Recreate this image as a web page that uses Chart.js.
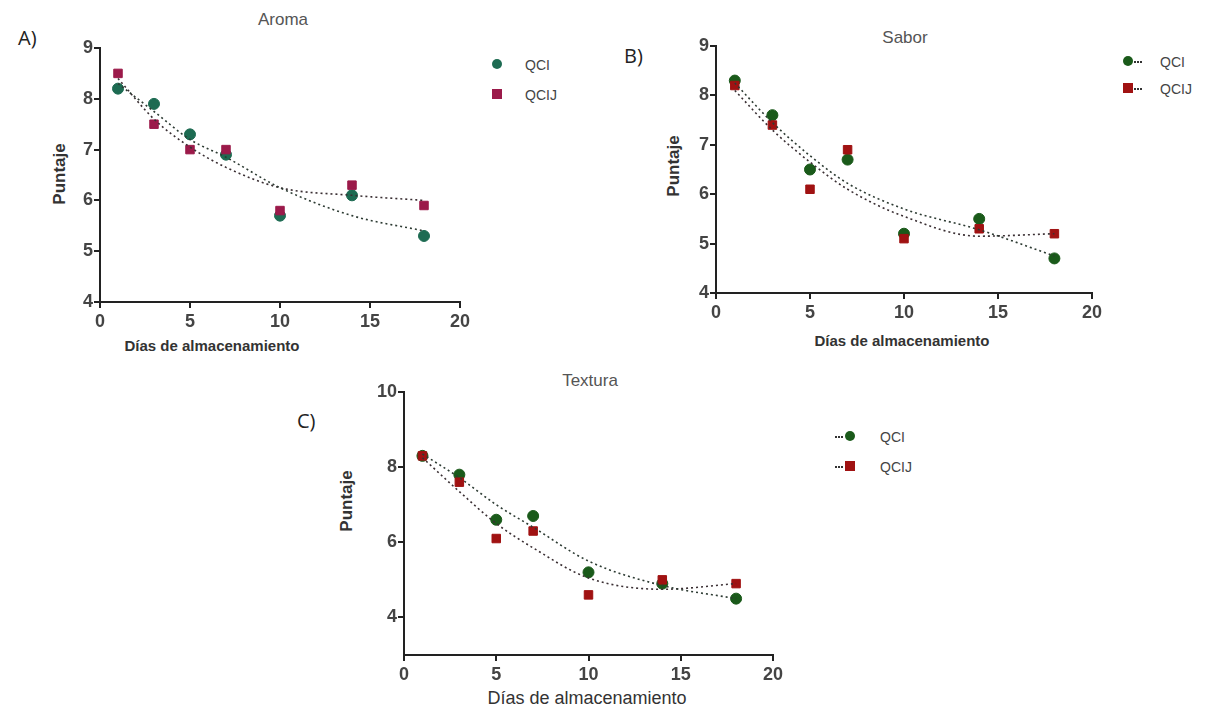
<!DOCTYPE html>
<html>
<head>
<meta charset="utf-8">
<script src="https://cdn.jsdelivr.net/npm/chart.js@4"></script>
<style>
  body { margin: 0; background: #fff; width: 1211px; height: 713px; position: relative; overflow: hidden; font-family: "Liberation Sans", Arial, sans-serif; }
  canvas { position: absolute; }
  .t { position: absolute; white-space: nowrap; }
  .panel { font-family: "Open Sans", sans-serif; font-size: 20px; color: #222; }
  .title { font-size: 17px; color: #555; transform: translateX(-50%); }
  .xlab { font-size: 15px; font-weight: bold; color: #333; transform: translateX(-50%); }
  .ylab { font-size: 17px; font-weight: bold; color: #333; transform: translate(-50%, -50%) rotate(-90deg); }
  .leg { position: absolute; font-size: 14px; color: #444; }
  .leg .m { position: absolute; top: 2px; width: 10px; height: 10px; }
  .leg .d { position: absolute; top: 7px; width: 8px; border-top: 2px dotted #333; }
</style>
</head>
<body>

<div class="t panel" style="left:18px; top:24px;">A)</div>
<div class="t title" style="left:283px; top:10px;">Aroma</div>
<div class="t ylab" style="left:60px; top:174px;">Puntaje</div>
<div class="t xlab" style="left:212px; top:337px;">Días de almacenamiento</div>

<div class="t panel" style="left:624px; top:42px;">B)</div>
<div class="t title" style="left:905px; top:28px;">Sabor</div>
<div class="t ylab" style="left:674px; top:166px;">Puntaje</div>
<div class="t xlab" style="left:902px; top:332px;">Días de almacenamiento</div>

<div class="t panel" style="left:297px; top:407px;">C)</div>
<div class="t title" style="left:590px; top:371px;">Textura</div>
<div class="t ylab" style="left:347px; top:501px;">Puntaje</div>
<div class="t" style="left:587px; top:688px; transform:translateX(-50%); font-size:18px; color:#333;">Días de almacenamiento</div>

<canvas id="chartA"></canvas>
<canvas id="chartB"></canvas>
<canvas id="chartC"></canvas>

<script>
// days of storage
const dias = [1, 3, 5, 7, 10, 14, 18];
const xTicks = [0, 5, 10, 15, 20];

// A) Aroma
const aromaQCI  = [8.2, 7.9, 7.3, 6.9, 5.7, 6.1, 5.3];
const aromaQCIJ = [8.5, 7.5, 7.0, 7.0, 5.8, 6.3, 5.9];
const aromaFitQCI  = [8.3, 7.75, 7.2, 6.85, 6.25, 5.7, 5.4];
const aromaFitQCIJ = [8.4, 7.6, 7.05, 6.65, 6.25, 6.1, 6.0];
const aromaYTicks = [4, 5, 6, 7, 8, 9];

// B) Sabor
const saborQCI  = [8.3, 7.6, 6.5, 6.7, 5.2, 5.5, 4.7];
const saborQCIJ = [8.2, 7.4, 6.1, 6.9, 5.1, 5.3, 5.2];
const saborFitQCI  = [8.25, 7.45, 6.78, 6.22, 5.7, 5.28, 4.75];
const saborFitQCIJ = [8.1, 7.3, 6.65, 6.1, 5.55, 5.15, 5.2];
const saborYTicks = [4, 5, 6, 7, 8, 9];

// C) Textura
const texturaQCI  = [8.3, 7.8, 6.6, 6.7, 5.2, 4.9, 4.5];
const texturaQCIJ = [8.3, 7.6, 6.1, 6.3, 4.6, 5.0, 4.9];
const texturaFitQCI  = [8.35, 7.72, 7.0, 6.4, 5.5, 4.85, 4.5];
const texturaFitQCIJ = [8.25, 7.35, 6.5, 5.85, 5.05, 4.75, 4.9];
const texturaYTicks = [4, 6, 8, 10];

function pts(ys) {
    return dias.map((d, i) => ({x: d, y: ys[i]}));
}

function createPlot(id, box, yMin, yMax, yTicks, qci, qcij, fitQci, fitQcij, colQci, colQcij){
    // box = plot area in page pixels
    const padL = 46, padT = 12, padR = 18, padB = 34;
    const cv = document.getElementById(id);
    cv.style.left = (box.x - padL) + 'px';
    cv.style.top = (box.y - padT) + 'px';
    cv.width = box.w + padL + padR;
    cv.height = box.h + padT + padB;

    const axisLine = {display: true, drawOnChartArea: false, drawTicks: true, tickLength: 6, color: '#222', lineWidth: 2};
    const tickFont = {family: 'Liberation Sans', size: 18, weight: 'bold'};

    return new Chart(cv.getContext('2d'), {
        type: 'scatter',
        data: {
            datasets: [
                {label: 'fitQCI', data: pts(fitQci), showLine: true, pointRadius: 0, borderColor: '#2d3b33',
                 borderWidth: 1.6, borderDash: [2, 3], cubicInterpolationMode: 'monotone'},
                {label: 'fitQCIJ', data: pts(fitQcij), showLine: true, pointRadius: 0, borderColor: '#3a2f33',
                 borderWidth: 1.6, borderDash: [2, 3], cubicInterpolationMode: 'monotone'},
                {label: 'QCIJ', data: pts(qcij), pointStyle: 'rect', pointRadius: 6, backgroundColor: colQcij, borderColor: colQcij},
                {label: 'QCI', data: pts(qci), pointStyle: 'circle', pointRadius: 5.5, backgroundColor: colQci, borderColor: colQci}
            ]
        },
        options: {
            responsive: false,
            animation: false,
            layout: {padding: {top: padT, right: padR}},
            plugins: {legend: {display: false}, tooltip: {enabled: false}},
            scales: {
                x: {
                    type: 'linear', min: 0, max: 20,
                    grid: axisLine,
                    border: {display: true, color: '#222', width: 2},
                    ticks: {color: '#444', font: tickFont, padding: 3, maxRotation: 0},
                    afterBuildTicks: s => { s.ticks = xTicks.map(v => ({value: v})); },
                    afterFit: s => { s.height = padB; }
                },
                y: {
                    type: 'linear', min: yMin, max: yMax,
                    grid: axisLine,
                    border: {display: true, color: '#222', width: 2},
                    ticks: {color: '#444', font: tickFont, padding: 1},
                    afterBuildTicks: s => { s.ticks = yTicks.map(v => ({value: v})); },
                    afterFit: s => { s.width = padL; }
                }
            }
        }
    });
}

createPlot('chartA', {x: 100, y: 48, w: 360, h: 254}, 4, 9, aromaYTicks,
    aromaQCI, aromaQCIJ, aromaFitQCI, aromaFitQCIJ, '#1d6b52', '#9b1a4a');
createPlot('chartB', {x: 716, y: 46, w: 376, h: 247}, 4, 9, saborYTicks,
    saborQCI, saborQCIJ, saborFitQCI, saborFitQCIJ, '#1a5a1a', '#a01212');
createPlot('chartC', {x: 404, y: 392, w: 369, h: 263}, 3, 10, texturaYTicks,
    texturaQCI, texturaQCIJ, texturaFitQCI, texturaFitQCIJ, '#1a5a1a', '#a01212');
</script>

<!-- legends -->
<div class="leg" style="left:492px; top:57px;"><span class="m" style="left:0; background:#1d6b52; border-radius:50%;"></span><span style="position:absolute; left:33px;">QCI</span></div>
<div class="leg" style="left:492px; top:87px;"><span class="m" style="left:0; background:#9b1a4a;"></span><span style="position:absolute; left:33px;">QCIJ</span></div>

<div class="leg" style="left:1123px; top:54px;"><span class="m" style="left:0; background:#1a5a1a; border-radius:50%;"></span><span class="d" style="left:11px;"></span><span style="position:absolute; left:37px;">QCI</span></div>
<div class="leg" style="left:1123px; top:81px;"><span class="m" style="left:0; background:#a01212;"></span><span class="d" style="left:11px;"></span><span style="position:absolute; left:37px;">QCIJ</span></div>

<div class="leg" style="left:845px; top:429px;"><span class="d" style="left:-10px;"></span><span class="m" style="left:0; background:#1a5a1a; border-radius:50%;"></span><span style="position:absolute; left:35px;">QCI</span></div>
<div class="leg" style="left:845px; top:459px;"><span class="d" style="left:-10px;"></span><span class="m" style="left:0; background:#a01212;"></span><span style="position:absolute; left:35px;">QCIJ</span></div>

</body>
</html>
